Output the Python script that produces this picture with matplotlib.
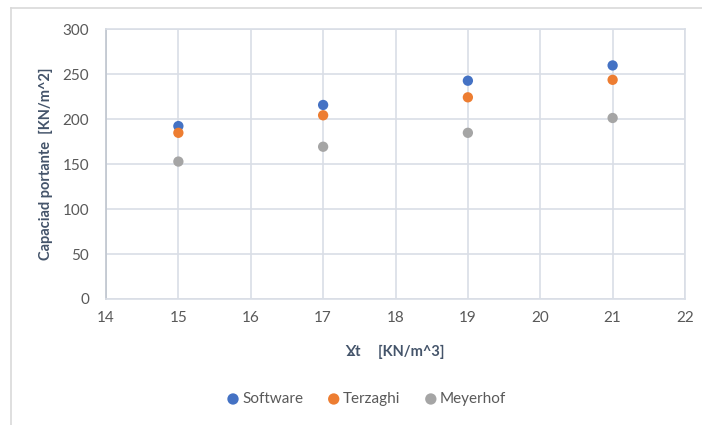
import matplotlib.pyplot as plt
from matplotlib.lines import Line2D

plt.rcParams['font.family'] = ['Lato', 'DejaVu Sans']

# unit weight (KN/m^3) and bearing capacity (KN/m^2)
gamma = [15, 17, 19, 21]
software = [192.5, 216, 243, 260]
terzaghi = [185, 204.5, 224.5, 244]
meyerhof = [153, 169.5, 185, 201.5]

series = [('Software', software, '#4472C4'),
          ('Terzaghi', terzaghi, '#ED7D31'),
          ('Meyerhof', meyerhof, '#A5A5A5')]

fig = plt.figure(figsize=(7.02, 4.25), dpi=100)
ax = fig.add_axes([106/702, 1 - 299/425, (685-106)/702, (299-29.5)/425])

# outer chart frame (top and left edges)
fig.add_artist(Line2D([10.5/702, 1.0], [1 - 8/425, 1 - 8/425], color='#D9D9D9', lw=1.2))
fig.add_artist(Line2D([10.5/702, 10.5/702], [0, 1 - 8/425], color='#D9D9D9', lw=1.2))

for name, vals, col in series:
    ax.scatter(gamma, vals, s=55, color=col, label=name, zorder=3, edgecolors='none')

ax.set_xlim(14, 22)
ax.set_ylim(0, 300)
ax.set_xticks(range(14, 23))
ax.set_yticks(range(0, 301, 50))
ax.grid(True, color='#D9DEE6', lw=1.2)
ax.set_axisbelow(True)
for s in ['top', 'right', 'bottom']:
    ax.spines[s].set_color('#D9DEE6')
    ax.spines[s].set_linewidth(1.2)
ax.spines['left'].set_color('#BFC5CE')
ax.spines['left'].set_linewidth(1.2)
ax.tick_params(length=0, labelsize=11, labelcolor='#595959', pad=9)
ax.tick_params(axis='y', pad=12)

ax.set_xlabel('Ɣt     [KN/m^3]', fontsize=10.5, fontweight='bold', color='#44546A', labelpad=14)
ax.set_ylabel('Capaciad portante  [KN/m^2]', fontsize=10.5, fontweight='bold', color='#44546A', labelpad=7)

fig.legend(loc='center', bbox_to_anchor=(0.52, 1 - 399/425), ncol=3, frameon=False,
           fontsize=11, labelcolor='#595959', handletextpad=0.0, handlelength=1.2,
           columnspacing=1.4, markerscale=1.1)

fig.savefig('out.png', dpi=100)
